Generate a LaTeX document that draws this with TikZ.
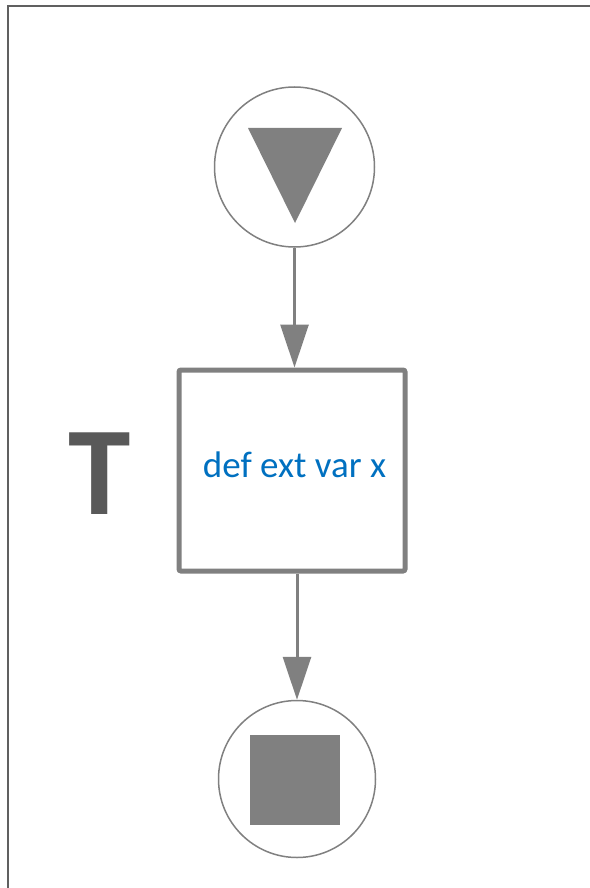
\documentclass[tikz,border=0pt]{standalone}
\usepackage{fontspec}
\setmainfont{Carlito}
\usetikzlibrary{arrows.meta}
\definecolor{linegray}{HTML}{808080}
\definecolor{framegray}{HTML}{606060}
\definecolor{tgray}{HTML}{595959}
\definecolor{txtblue}{HTML}{0070C0}
\tikzset{
  evt/.style={circle, draw=linegray, line width=1.5pt, minimum size=160pt, inner sep=0pt, fill=white},
  taskbox/.style={rectangle, draw=linegray, line width=5pt, minimum width=226pt, minimum height=201pt, rounded corners=2pt, inner sep=0pt},
  flow/.style={draw=linegray, line width=3pt, -{Triangle[width=28pt,length=43pt]}},
  mark/.style={}
}
\begin{document}
\begin{tikzpicture}[x=1pt,y=-1pt]
\useasboundingbox (0,0) rectangle (589,888);
\draw[framegray, line width=2pt] (8,900) -- (8,6) -- (600,6);
% start event
\node[evt] (start) at (294.5,167) {};
\fill[linegray] (248,128) -- (342,128) -- (295,223) -- cycle;
% task
\node[taskbox] (task) at (292,470.5) {};
\node[anchor=base, text=txtblue, font=\fontsize{37}{40}\selectfont, inner sep=0pt] (lbl) at (294.5,477) {def ext var x};
\node[anchor=base, text=tgray, font=\fontsize{126}{130}\selectfont\bfseries, inner sep=0pt] (tmark) at (99.5,514) {T};
% end event
\node[evt] (end) at (297,779) [minimum size=157pt] {};
\node[rectangle, fill=linegray, minimum size=90pt, inner sep=0pt] (endsq) at (295,780) {};
% flows
\draw[flow] (start) -- (task.north -| start);
\draw[flow] (task.south -| end) -- (end);
\end{tikzpicture}
\end{document}
